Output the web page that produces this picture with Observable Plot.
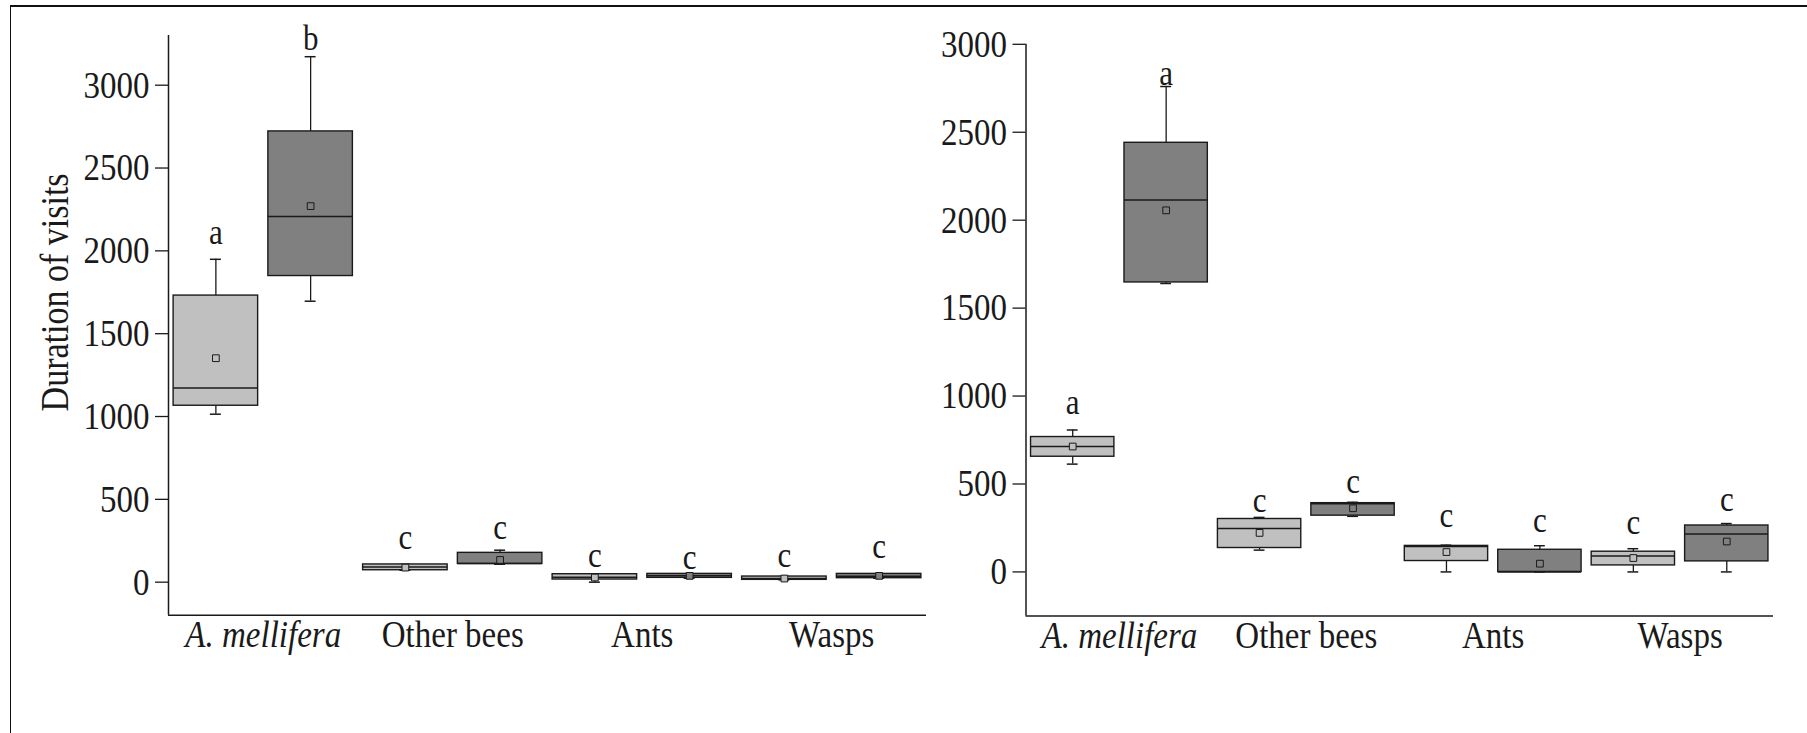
<!DOCTYPE html>
<html><head><meta charset="utf-8">
<script src="https://cdn.jsdelivr.net/npm/d3@7"></script>
<script src="https://cdn.jsdelivr.net/npm/@observablehq/plot@0.6"></script>
<style>
html,body{margin:0;padding:0;background:#fff;}
#wrap{position:relative;width:1807px;height:733px;overflow:hidden;background:#fff;}
#border{position:absolute;left:10px;top:5px;width:1840px;height:780px;border-top:2px solid #111;border-left:1px solid #111;box-sizing:border-box;pointer-events:none;}
#left{position:absolute;left:0;top:0;}
#right{position:absolute;left:930px;top:0;}
</style></head><body>
<div id="wrap"><div id="left"></div><div id="right"></div><div id="border"></div></div>
<script>
// ---- data ----
const categories = ["A. mellifera", "Other bees", "Ants", "Wasps"];
const groups = ["Group 1", "Group 2"];
const yTicks = [0, 500, 1000, 1500, 2000, 2500, 3000];
const yLabel = "Duration of visits";
const letters = ["a", "b", "c", "c", "c", "c", "c", "c"];
const lettersRight = ["a", "a", "c", "c", "c", "c", "c", "c"];

// left panel (order: category x group)
const leftWhiskerLow  = [1014, 1696, 72, 108, 0, 24, 14, 24];
const leftQ1          = [1065, 1848, 72, 110, 16, 26, 14, 24];
const leftMedian      = [1172, 2208, 92, 112, 30, 38, 22, 36];
const leftQ3          = [1730, 2721, 107, 177, 48, 50, 34, 50];
const leftWhiskerHigh = [1949, 3172, 107, 193, 48, 50, 34, 50];
const leftMean        = [1352, 2270, 88, 134, 28, 38, 22, 38];
const leftLetterY     = [2042, 3211, 203, 263, 92, 82, 92, 143];

// right panel
const rightWhiskerLow  = [613, 1640, 124, 316, 0, 0, 0, 0];
const rightQ1          = [655, 1646, 136, 320, 62, 0, 37, 60];
const rightMedian      = [713, 2115, 247, 388, 144, 0, 90, 215];
const rightQ3          = [767, 2440, 301, 391, 148, 126, 115, 264];
const rightWhiskerHigh = [807, 2760, 310, 396, 152, 149, 132, 275];
const rightMean        = [713, 2056, 222, 362, 113, 47, 79, 173];
const rightLetterY     = [898, 2768, 341, 447, 254, 226, 217, 349];

// ---- build tables ----
function table(wlo, q1, med, q3, whi, mean, let_, letY) {
  return categories.flatMap((c, ci) => groups.map((g, gi) => {
    const i = ci * 2 + gi;
    return {category: c, group: g, pos: i, wlo: wlo[i], q1: q1[i], median: med[i], q3: q3[i], whi: whi[i], mean: mean[i], letter: let_[i], letterY: letY[i]};
  }));
}
const catRows = categories.map((c, ci) => ({category: c, pos: ci * 2 + 0.5}));

const INK = "#1a1a1a";
const HW = 0.446, CAP = 0.058;
const FONT = "'Liberation Serif', 'Times New Roman', serif";
const STRETCH = 1.17;

function panel(rows, opts) {
  const marks = [
    Plot.ruleX(rows, {x: "pos", y1: "wlo", y2: "q1", stroke: INK, strokeWidth: 1.3}),
    Plot.ruleX(rows, {x: "pos", y1: "q3", y2: "whi", stroke: INK, strokeWidth: 1.3}),
    Plot.ruleY(rows, {y: "wlo", x1: d => d.pos - CAP, x2: d => d.pos + CAP, stroke: INK, strokeWidth: 1.5}),
    Plot.ruleY(rows, {y: "whi", x1: d => d.pos - CAP, x2: d => d.pos + CAP, stroke: INK, strokeWidth: 1.5}),
    Plot.rect(rows, {x1: d => d.pos - HW, x2: d => d.pos + HW, y1: "q1", y2: "q3", fill: "group", stroke: INK, strokeWidth: 1.4}),
    Plot.ruleY(rows, {y: "median", x1: d => d.pos - HW, x2: d => d.pos + HW, stroke: INK, strokeWidth: 1.5}),
    Plot.dot(rows, {x: "pos", y: "mean", symbol: "square", r: 3.8, fill: "group", stroke: INK, strokeWidth: 1}),
    Plot.text(rows, {x: "pos", y: "letterY", text: "letter", lineAnchor: "bottom", fontSize: 31, fill: INK}),
    Plot.ruleX([-0.5], {stroke: INK, strokeWidth: 1.5}),
    Plot.ruleY([opts.yDomain[0]], {stroke: INK, strokeWidth: 1.5}),
    Plot.axisY({ticks: yTicks, tickFormat: d => String(d), tickSize: 13, tickPadding: 6, fontSize: 33, label: null, stroke: INK, strokeWidth: 1.3, fill: INK}),
    Plot.text(catRows.filter(d => d.pos < 1), {x: "pos", text: "category", frameAnchor: "bottom", dy: 32, lineAnchor: "bottom", fontSize: 33, fontStyle: "italic", fill: INK}),
    Plot.text(catRows.filter(d => d.pos > 1), {x: "pos", text: "category", frameAnchor: "bottom", dy: 32, lineAnchor: "bottom", fontSize: 33, fill: INK})
  ];
  if (opts.label) {
    marks.push(Plot.text([opts.label], {frameAnchor: "left", textAnchor: "middle", dx: -101, dy: -33, rotate: -90, lineAnchor: "bottom", fontSize: 34, fill: INK}));
  }
  const svg = Plot.plot({
    width: opts.width, height: 733,
    marginLeft: opts.marginLeft, marginRight: opts.marginRight,
    marginTop: opts.marginTop, marginBottom: opts.marginBottom,
    style: {fontFamily: FONT, fontSize: "33px", background: "transparent", color: INK},
    x: {type: "linear", domain: [-0.5, 7.5], axis: null},
    y: {domain: opts.yDomain, axis: null},
    color: {domain: groups, range: ["#c0c0c0", "#808080"]},
    marks
  });
  // the reference typeface is drawn slightly taller than Times: stretch glyphs vertically
  svg.querySelectorAll("text").forEach(t => {
    const tr = t.getAttribute("transform");
    if (tr) t.setAttribute("transform", tr + ` scale(1,${STRETCH})`);
  });
  return svg;
}

const leftRows = table(leftWhiskerLow, leftQ1, leftMedian, leftQ3, leftWhiskerHigh, leftMean, letters, leftLetterY);
const rightRows = table(rightWhiskerLow, rightQ1, rightMedian, rightQ3, rightWhiskerHigh, rightMean, lettersRight, rightLetterY);

document.getElementById("left").append(panel(leftRows, {
  width: 930, marginLeft: 168, marginRight: 4, marginTop: 35, marginBottom: 118.2,
  yDomain: [-200, 3300], label: yLabel
}));
document.getElementById("right").append(panel(rightRows, {
  width: 877, marginLeft: 95.5, marginRight: 34, marginTop: 43.8, marginBottom: 117.6,
  yDomain: [-250, 3000]
}));
</script>
</body></html>
